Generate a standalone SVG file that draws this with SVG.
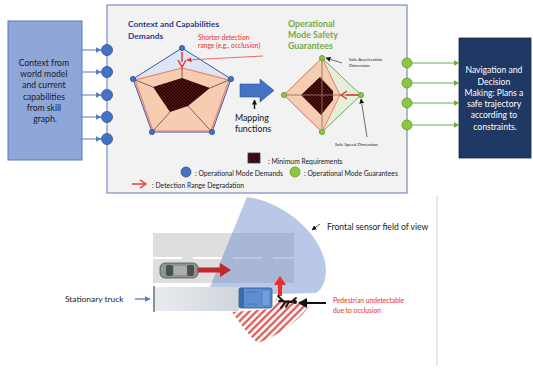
<svg xmlns="http://www.w3.org/2000/svg" width="533" height="373" viewBox="0 0 533 373">
  <defs>
    <style>
      .t { font-family: Lato, "Open Sans", "Liberation Sans", sans-serif; }
      .box-text { font-size: 8.6px; text-anchor: middle; }
      .legend { font-size: 6.8px; fill: #222; }
      .tiny { font-size: 4.4px; fill: #222; }
      .in-line { stroke: #5b7bc0; stroke-width: 1; fill: none; }
      .out-line { stroke: #70ad47; stroke-width: 1; fill: none; }
      .demand { fill: #4472c4; stroke: #2f528f; stroke-width: 0.8; }
      .guarantee { fill: #8dc63f; stroke: #5a9a2a; stroke-width: 0.8; }
      .spoke { stroke: #3a3a3a; stroke-width: 0.7; }
    </style>
    <marker id="ah-blue" viewBox="0 0 10 10" refX="9" refY="5" markerWidth="6" markerHeight="6" orient="auto" markerUnits="userSpaceOnUse">
      <path d="M0,0 L10,5 L0,10 Z" fill="#5b7bc0"/>
    </marker>
    <marker id="ah-green" viewBox="0 0 10 10" refX="9" refY="5" markerWidth="6" markerHeight="6" orient="auto" markerUnits="userSpaceOnUse">
      <path d="M0,0 L10,5 L0,10 Z" fill="#70ad47"/>
    </marker>
    <marker id="ah-black" viewBox="0 0 10 10" refX="9" refY="5" markerWidth="5" markerHeight="5" orient="auto" markerUnits="userSpaceOnUse">
      <path d="M0,0 L10,5 L0,10 Z" fill="#111"/>
    </marker>
    <marker id="ah-red-small" viewBox="0 0 10 10" refX="9" refY="5" markerWidth="5" markerHeight="5" orient="auto" markerUnits="userSpaceOnUse">
      <path d="M0,0 L10,5 L0,10 Z" fill="#e8302a"/>
    </marker>
    <!-- checkered minimum-requirement fill: red dots on black -->
    <pattern id="checker" width="3.4" height="3.4" patternUnits="userSpaceOnUse">
      <rect width="3.4" height="3.4" fill="#140202"/>
      <rect x="0.2" y="0.2" width="1.3" height="1.3" fill="#a21e1e"/>
      <rect x="1.9" y="1.9" width="1.3" height="1.3" fill="#a21e1e"/>
    </pattern>
    <!-- occluded zone hatching -->
    <pattern id="hatch" width="5" height="5" patternUnits="userSpaceOnUse" patternTransform="rotate(45)">
      <line x1="1.5" y1="0" x2="1.5" y2="5" stroke="#d9413c" stroke-width="2"/>
    </pattern>
    <linearGradient id="trailer" x1="0" y1="0" x2="1" y2="0">
      <stop offset="0" stop-color="#e9ecef"/>
      <stop offset="1" stop-color="#cfd5dc"/>
    </linearGradient>
  </defs>

  <rect width="533" height="373" fill="#ffffff"/>

  <!-- central panel -->
  <g id="panel">
    <rect x="107" y="5" width="300" height="188" fill="#f2f2f2" stroke="#7a8cc4" stroke-width="1.2"/>
  </g>

  <!-- input box -->
  <g id="context-input">
    <rect x="8" y="21" width="74" height="139" fill="#8fa6d8" stroke="#5b7bc0" stroke-width="1"/>
    <text class="t box-text" fill="#1a1a1a">
      <tspan x="45" y="66">Context from</tspan>
      <tspan x="45" y="77">world model</tspan>
      <tspan x="45" y="88">and current</tspan>
      <tspan x="45" y="100">capabilities</tspan>
      <tspan x="45" y="111">from skill</tspan>
      <tspan x="45" y="122">graph.</tspan>
    </text>
  </g>

  <!-- output box -->
  <g id="navigation">
    <rect x="459" y="38" width="72" height="120" fill="#1f3864" stroke="#14264a" stroke-width="0.8"/>
    <text class="t box-text" fill="#ffffff">
      <tspan x="495" y="73">Navigation and</tspan>
      <tspan x="495" y="85">Decision</tspan>
      <tspan x="495" y="96">Making: Plans a</tspan>
      <tspan x="495" y="107">safe trajectory</tspan>
      <tspan x="495" y="118">according to</tspan>
      <tspan x="495" y="130">constraints.</tspan>
    </text>
  </g>

  <!-- connectors -->
  <g id="connectors">
    <line class="in-line" x1="82" y1="50" x2="101" y2="50" marker-end="url(#ah-blue)"/>
    <line class="in-line" x1="82" y1="72" x2="101" y2="72" marker-end="url(#ah-blue)"/>
    <line class="in-line" x1="82" y1="95" x2="101" y2="95" marker-end="url(#ah-blue)"/>
    <line class="in-line" x1="82" y1="117" x2="101" y2="117" marker-end="url(#ah-blue)"/>
    <line class="in-line" x1="82" y1="139" x2="101" y2="139" marker-end="url(#ah-blue)"/>
    <line class="out-line" x1="412" y1="63" x2="459" y2="63" marker-end="url(#ah-green)"/>
    <line class="out-line" x1="412" y1="83" x2="459" y2="83" marker-end="url(#ah-green)"/>
    <line class="out-line" x1="412" y1="103" x2="459" y2="103" marker-end="url(#ah-green)"/>
    <line class="out-line" x1="412" y1="125" x2="459" y2="125" marker-end="url(#ah-green)"/>
  </g>

  <!-- ports on panel border -->
  <g id="demand-ports">
    <circle class="demand" cx="107" cy="50" r="5.5"/>
    <circle class="demand" cx="107" cy="72" r="5.5"/>
    <circle class="demand" cx="107" cy="95" r="5.5"/>
    <circle class="demand" cx="107" cy="117" r="5.5"/>
    <circle class="demand" cx="107" cy="139" r="5.5"/>
  </g>
  <g id="guarantee-ports">
    <circle class="guarantee" cx="407" cy="63" r="5"/>
    <circle class="guarantee" cx="407" cy="83" r="5"/>
    <circle class="guarantee" cx="407" cy="103" r="5"/>
    <circle class="guarantee" cx="407" cy="125" r="5"/>
  </g>

  <!-- demands radar -->
  <g id="demands-radar">
    <text class="t" font-size="8.4" font-weight="bold" fill="#2b3a8a">
      <tspan x="128" y="27">Context and Capabilities</tspan>
      <tspan x="128" y="39">Demands</tspan>
    </text>
    <text class="t" font-size="6.7" fill="#e8302a">
      <tspan x="198" y="40">Shorter detection</tspan>
      <tspan x="198" y="48">range (e.g., occlusion)</tspan>
    </text>
    <polygon points="182,48 231,79 212,132 152,132 133,79" fill="#dbe5f4" stroke="#3f56a0" stroke-width="1"/>
    <polygon points="182,68 229,80 211,131 153,131 135,80" fill="#f6cdb0" stroke="#f07c6c" stroke-width="1.2"/>
    <polygon points="153,87 182,78 210,88 188,106 170,112" fill="url(#checker)"/>
    <line class="spoke" x1="182" y1="68" x2="182" y2="78"/>
    <line class="spoke" x1="135" y1="80" x2="153" y2="87"/>
    <line class="spoke" x1="229" y1="80" x2="210" y2="88"/>
    <line class="spoke" x1="153" y1="131" x2="170" y2="112"/>
    <line class="spoke" x1="211" y1="131" x2="188" y2="106"/>
    <circle class="demand" cx="182" cy="48" r="2.6"/>
    <circle class="demand" cx="231" cy="79" r="2.6"/>
    <circle class="demand" cx="212" cy="132" r="2.6"/>
    <circle class="demand" cx="152" cy="132" r="2.6"/>
    <circle class="demand" cx="133" cy="79" r="2.6"/>
    <!-- degradation arrow -->
    <line x1="182" y1="52" x2="182" y2="62" stroke="#e8302a" stroke-width="1.4"/>
    <path d="M178,60 L182,67 L186,60" fill="none" stroke="#e8302a" stroke-width="1.4"/>
    <line x1="263" y1="56" x2="187" y2="60" stroke="#e8302a" stroke-width="0.7" marker-end="url(#ah-red-small)"/>
  </g>

  <!-- mapping arrow -->
  <g id="mapping">
    <path d="M240,84 L260,84 L260,79 L274,90.5 L260,102 L260,97 L240,97 Z" fill="#4472c4" stroke="#2f528f" stroke-width="0.6"/>
    <line x1="254.5" y1="109" x2="254.5" y2="100" stroke="#111" stroke-width="1.4" marker-end="url(#ah-black)"/>
    <text class="t" font-size="8.8" fill="#111" text-anchor="middle">
      <tspan x="253" y="121">Mapping</tspan>
      <tspan x="253" y="132">functions</tspan>
    </text>
  </g>

  <!-- guarantees radar -->
  <g id="guarantees-radar">
    <text class="t" font-size="8.8" font-weight="bold" fill="#70ad47">
      <tspan x="288" y="27">Operational</tspan>
      <tspan x="288" y="38">Mode Safety</tspan>
      <tspan x="288" y="49">Guarantees</tspan>
    </text>
    <polygon points="322,58 361,95 322,132 284,95" fill="#e2efda" stroke="#70ad47" stroke-width="1"/>
    <polygon points="322,58 340,95 322,132 284,95" fill="#f6cdb0" stroke="#f07c6c" stroke-width="1"/>
    <polygon points="301,95 320,77 333,91 333,100 321,115" fill="url(#checker)"/>
    <line x1="284" y1="95" x2="361" y2="95" stroke="#8b7b6b" stroke-width="0.9"/>
    <line x1="322" y1="58" x2="322" y2="132" stroke="#8b7b6b" stroke-width="0.9"/>
    <line x1="360" y1="95" x2="346" y2="95" stroke="#e8302a" stroke-width="1.4"/>
    <path d="M347,91 L341,95 L347,99" fill="none" stroke="#e8302a" stroke-width="1.4"/>
    <circle class="guarantee" cx="322" cy="58" r="2.6"/>
    <circle class="guarantee" cx="361" cy="95" r="2.6"/>
    <circle class="guarantee" cx="322" cy="132" r="2.6"/>
    <circle class="guarantee" cx="284" cy="95" r="2.6"/>
    <line x1="342" y1="63" x2="326" y2="58" stroke="#111" stroke-width="0.6" marker-end="url(#ah-black)"/>
    <line x1="367" y1="137" x2="361" y2="99" stroke="#111" stroke-width="0.6" marker-end="url(#ah-black)"/>
    <text class="t tiny">
      <tspan x="349" y="61">Safe Acceleration</tspan>
      <tspan x="349" y="67">Dimension</tspan>
    </text>
    <text class="t tiny" x="335" y="146">Safe Speed Dimension</text>
  </g>

  <!-- legend -->
  <g id="legend">
    <rect x="248" y="153" width="12" height="10" fill="url(#checker)" stroke="#2f3f7a" stroke-width="0.8"/>
    <text class="t legend" x="268" y="164">: Minimum Requirements</text>
    <circle class="demand" cx="186" cy="172" r="5"/>
    <text class="t legend" x="195" y="176">: Operational Mode Demands</text>
    <circle class="guarantee" cx="295" cy="172" r="5"/>
    <text class="t legend" x="304" y="176">: Operational Mode Guarantees</text>
    <line x1="132" y1="184" x2="144" y2="184" stroke="#e8302a" stroke-width="1.4"/>
    <path d="M140,180 L146,184 L140,188" fill="none" stroke="#e8302a" stroke-width="1.4"/>
    <text class="t legend" x="152" y="188">: Detection Range Degradation</text>
  </g>

  <!-- scene: occlusion of a pedestrian by a stationary truck -->
  <g id="scene">
    <line x1="437" y1="196" x2="437" y2="366" stroke="#cfcfcf" stroke-width="1"/>
    <!-- road -->
    <rect x="153" y="233" width="141" height="50" fill="#dedede"/>
    <line x1="153" y1="258" x2="294" y2="258" stroke="#ffffff" stroke-width="2" stroke-dasharray="29 11"/>
    <!-- occluded zone -->
    <path d="M232,312 L272,309 L276,299 L313,302 C300,320 280,335 258,343 C248,335 240,323 232,312 Z" fill="url(#hatch)"/>
    <!-- sensor field of view -->
    <path d="M247,197 C285,203 318,232 325,262 C328,277 323,289 316,293 L275,294 L210,287 Z" fill="#6f8bcc" fill-opacity="0.48"/>
    <!-- trailer -->
    <rect x="153" y="287" width="86" height="24" fill="url(#trailer)"/>
    <line x1="154" y1="286" x2="154" y2="312" stroke="#8a9096" stroke-width="2"/>
    <!-- truck cab -->
    <rect x="239" y="288" width="33" height="20" rx="2" fill="#5b8fd0" stroke="#2f4f80" stroke-width="0.8"/>
    <rect x="239" y="288" width="5" height="20" fill="#3d6aa8"/>
    <rect x="262" y="290" width="8" height="16" rx="1.5" fill="#6f9fdc" stroke="#3d6aa8" stroke-width="0.5"/>
    <line x1="246" y1="292" x2="258" y2="292" stroke="#3d6aa8" stroke-width="0.6"/>
    <line x1="246" y1="304" x2="258" y2="304" stroke="#3d6aa8" stroke-width="0.6"/>
    <!-- passing car -->
    <rect x="160" y="263" width="38" height="15" rx="5" fill="#8e9494" stroke="#4d5252" stroke-width="0.8"/>
    <rect x="166" y="265" width="7" height="11" rx="2" fill="#4a5050"/>
    <rect x="174" y="266" width="13" height="9" rx="1.5" fill="#a9adad"/>
    <rect x="187" y="265" width="7" height="11" rx="2" fill="#4a5050"/>
    <path d="M198,267.5 L220,267.5 L220,263 L231,270 L220,277 L220,272.5 L198,272.5 Z" fill="#c0282a"/>
    <!-- pedestrian and warning arrows -->
    <path d="M278,296 L278,285 L274,285 L280,276 L286,285 L282,285 L282,296 Z" fill="#e8302a"/>
    <g stroke="#111" stroke-width="1.8" stroke-linecap="round" fill="none">
      <line x1="279" y1="301" x2="292" y2="302"/>
      <path d="M283,301 L278,296"/>
      <path d="M285,302 L281,308"/>
      <path d="M289,302 L286,307"/>
      <path d="M291,302 L296,298"/>
    </g>
    <circle cx="295" cy="302" r="2" fill="#111"/>
    <path d="M326,302 L307,302 L307,298 L298,303 L307,308 L307,304 L326,304 Z" fill="#111"/>
    <!-- labels -->
    <text class="t" font-size="8.4" fill="#222" x="65" y="302">Stationary truck</text>
    <line x1="135" y1="299" x2="150" y2="299" stroke="#4472c4" stroke-width="1.2" marker-end="url(#ah-blue)"/>
    <text class="t" font-size="8.6" fill="#222" x="327" y="230">Frontal sensor field of view</text>
    <line x1="320" y1="224" x2="312" y2="230" stroke="#111" stroke-width="0.7" marker-end="url(#ah-black)"/>
    <text class="t" font-size="6.7" fill="#e8302a">
      <tspan x="333" y="303">Pedestrian undetectable</tspan>
      <tspan x="333" y="313">due to occlusion</tspan>
    </text>
  </g>
</svg>
